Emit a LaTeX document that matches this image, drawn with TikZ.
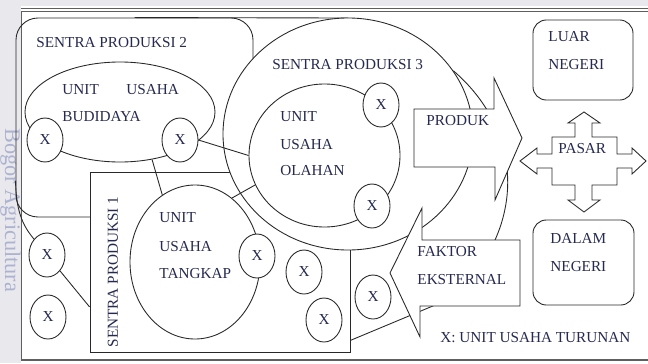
\documentclass[tikz,border=0pt]{standalone}
\usepackage{fontspec}
\setmainfont{Liberation Serif}
\usepackage{tikz}
\usetikzlibrary{shapes.geometric}
\definecolor{garis}{RGB}{40,40,40}
\definecolor{ink}{RGB}{38,42,80}
\definecolor{bingkai}{RGB}{95,95,95}
\definecolor{strip}{RGB}{233,233,237}
\definecolor{tanda}{RGB}{172,178,208}
\tikzset{
every picture/.style={line width=0.75pt, color=garis, x=0.03cm, y=-0.03cm},
every node/.style={font=\fontsize{13}{15}\selectfont, text=ink}
}
\tikzset{
  sentra/.style={draw, inner sep=0pt},
  turunan/.style={draw, ellipse, fill=white, inner sep=0pt,
    minimum width=1.08cm, minimum height=1.32cm},
  tulisan/.style={anchor=west, inner sep=0pt},
  pasar/.style={draw, fill=white, rounded corners=0.4cm, inner sep=0pt},
  panah/.style={draw, fill=white}
}

\begin{document}
\begin{tikzpicture}
    \useasboundingbox (0,0) rectangle (648,363);
    \fill[strip] (0,0) rectangle (21,363);
    \fill[strip] (0,0) rectangle (648,6);
    \node[rotate=-90, anchor=base west, inner sep=0pt, text=tanda,
      font=\fontsize{19}{21}\selectfont] (cap) at (5,128) {Bogor Agricultura};
    \draw[bingkai] (21,8) -- (648,8);
    \draw[bingkai] (21,11) -- (648,11);
    \draw[bingkai] (21,11) -- (21,360);
    \draw[bingkai, line width=1.2pt] (21,360) -- (648,360);

    \coordinate (puncak) at (348,18);
    \coordinate (ujung) at (495,240);
    \coordinate (bawah) at (440,303);

    \node[sentra, rounded corners=0.66cm, minimum width=7.11cm, minimum height=5.97cm] (sentra2) at (134.5,117.5) {};
    \draw (sentra2.north) -- (puncak);
    \node[sentra, fill=white, minimum width=7.8cm, minimum height=5.4cm] (sentra1) at (220,262) {};
    \node[sentra, ellipse, fill=white, minimum width=7.5cm, minimum height=6.96cm] (sentra3) at (348,134) {};
    \draw (sentra3.31) .. controls (505,115) and (522,180) .. (ujung);
    \draw (sentra1.-31.6) -- (bawah);

    \node[sentra, ellipse, minimum width=5.7cm, minimum height=3cm] (budidaya) at (120,112) {};
    \node[sentra, ellipse, minimum width=4.53cm, minimum height=4.29cm] (olahan) at (324.5,155.5) {};
    \node[sentra, ellipse, minimum width=3.9cm, minimum height=4.62cm] (tangkap) at (195,262) {};

    \node[turunan] (xb1) at (45,140) {X};
    \node[turunan] (xb2) at (180,140) {X};
    \node[turunan] (xo1) at (381,105) {X};
    \node[turunan] (xo2) at (372,206) {X};
    \node[turunan] (xt) at (257,256) {X};
    \node[turunan] (xf1) at (47,255) {X};
    \node[turunan] (xf2) at (48,317) {X};
    \node[turunan] (xf3) at (304,272) {X};
    \node[turunan] (xf4) at (324,320) {X};
    \node[turunan] (xf5) at (373,297) {X};

    \draw (xb2.east) -- (olahan.west);
    \draw (budidaya.-56) -- (tangkap.116);
    \draw (tangkap.60) -- (olahan.203);
    \draw (sentra2.208) .. controls (16,215) and (25,228) .. (xf1.north west);
    \draw (xf1) -- (sentra1.199);

    \draw[panah] (414,109) -- (494,109) -- (494,78) -- (522,138) -- (495,200)
      -- (495,167) -- (414,167) -- cycle;
    \draw[panah] (520,240) -- (422,240) -- (422,208) -- (390,273) -- (420,337)
      -- (420,306) -- (520,306) -- cycle;
    \draw[panah] (552,137) -- (575,137) -- (575,123) -- (568,123) -- (584,112)
      -- (600,123) -- (592,123) -- (592,137) -- (617,137) -- (617,154)
      -- (632,154) -- (632,148) -- (646,161) -- (632,174) -- (632,168)
      -- (617,168) -- (617,185) -- (592,185) -- (592,200) -- (600,200)
      -- (584,212) -- (568,200) -- (575,200) -- (575,185) -- (552,185)
      -- (552,168) -- (537,168) -- (537,174) -- (520,161) -- (537,148)
      -- (537,154) -- (552,154) -- cycle;
    \node[pasar, minimum width=3cm, minimum height=2.4cm] (luar) at (583,60) {};
    \node[pasar, minimum width=3.03cm, minimum height=2.55cm] (dalam) at (583.5,262.5) {};

    \node[tulisan] (t2) at (36,43) {SENTRA PRODUKSI 2};
    \node[tulisan] (tb1) at (62,90) {UNIT};
    \node[tulisan] (tb2) at (126,90) {USAHA};
    \node[tulisan] (tb3) at (62,117) {BUDIDAYA};
    \node[tulisan] (t3) at (272,65) {SENTRA PRODUKSI 3};
    \node[tulisan] (to1) at (280,117) {UNIT};
    \node[tulisan] (to2) at (280,145) {USAHA};
    \node[tulisan] (to3) at (280,171) {OLAHAN};
    \node[tulisan] (tt1) at (159,218) {UNIT};
    \node[tulisan] (tt2) at (159,247) {USAHA};
    \node[tulisan] (tt3) at (159,274) {TANGKAP};
    \node[rotate=90, inner sep=0pt] (t1) at (113,272) {SENTRA PRODUKSI 1};
    \node[tulisan] (tp) at (426,121) {PRODUK};
    \node[tulisan] (tf1) at (417,252) {FAKTOR};
    \node[tulisan] (tf2) at (417,280) {EKSTERNAL};
    \node[tulisan] (tps) at (558,149) {PASAR};
    \node[tulisan] (tl1) at (548,37) {LUAR};
    \node[tulisan] (tl2) at (548,65) {NEGERI};
    \node[tulisan] (td1) at (550,238) {DALAM};
    \node[tulisan] (td2) at (550,267) {NEGERI};
    \node[tulisan] (tk) at (440,338) {X: UNIT USAHA TURUNAN};
\end{tikzpicture}
\end{document}
